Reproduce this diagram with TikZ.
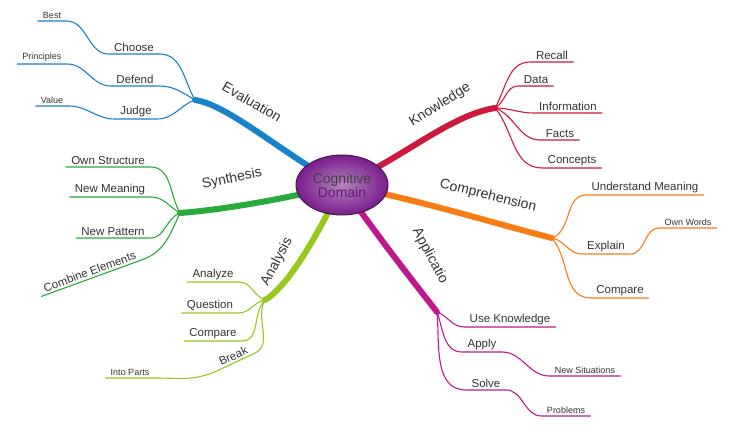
\documentclass[tikz,border=0pt]{standalone}
\usepackage{fontspec}
\setmainfont{Liberation Sans}
\usetikzlibrary{shapes.geometric}
\definecolor{ckn}{RGB}{205,25,60}
\definecolor{cco}{RGB}{245,125,20}
\definecolor{cpp}{RGB}{190,25,140}
\definecolor{can}{RGB}{150,200,30}
\definecolor{csy}{RGB}{40,170,60}
\definecolor{cev}{RGB}{25,130,200}
\definecolor{cpu}{RGB}{120,30,140}
\begin{document}
\begin{tikzpicture}[x=1pt,y=-1pt,
  main/.style={font=\fontsize{14}{15}\selectfont,text=black!80,inner sep=1pt},
  sub/.style={font=\fontsize{11.5}{13}\selectfont,text=black!80,anchor=south,inner xsep=5pt,inner ysep=2pt},
  sml/.style={font=\fontsize{9}{10}\selectfont,text=black!80,anchor=south,inner xsep=5pt,inner ysep=2pt},
  br/.style={line width=6pt,line cap=round},
  tw/.style={line width=1.1pt}]
\useasboundingbox (0,0) rectangle (750,425);
% junctions
\coordinate (C) at (342,185);
\coordinate (JK) at (495,108);
\coordinate (JC) at (552,238);
\coordinate (JP) at (437,312);
\coordinate (JA) at (265,300);
\coordinate (JS) at (180,213);
\coordinate (JE) at (195,100);
% main branches
\draw[br,ckn] (C) .. controls (400,160) and (450,115) .. (JK);
\draw[br,cco] (C) .. controls (420,200) and (500,225) .. (JC);
\draw[br,cpp] (C) .. controls (380,240) and (420,290) .. (JP);
\draw[br,can] (C) .. controls (320,230) and (290,285) .. (JA);
\draw[br,csy] (C) .. controls (280,200) and (220,210) .. (JS);
\draw[br,cev] (C) .. controls (290,160) and (230,105) .. (JE);
% center
\node[ellipse,draw=cpu!60!black,line width=1pt,minimum width=92pt,minimum height=60pt,
  inner color=cpu!55!white,outer color=cpu,align=center,
  font=\fontsize{14}{15}\selectfont,text=black!75] (ctr) at (C) {Cognitive\\[-1pt]{\color{cpu!80!black}Domain}};
% main labels
\node[main,rotate=32] (k) at (440,105) {Knowledge};
\node[main,rotate=-14] (co) at (488,196) {Comprehension};
\node[main,rotate=-62] (ap) at (430,256) {Applicatio};
\node[main,rotate=62] (an) at (277,262) {Analysis};
\node[main,rotate=12] (sy) at (232,179) {Synthesis};
\node[main,rotate=-30] (ev) at (252,102) {Evaluation};
% Knowledge subs
\begin{scope}[ckn,tw]
\node[sub] (k1) at (552,62) {Recall};
\node[sub] (k2) at (536,86) {Data};
\node[sub] (k3) at (568,113) {Information};
\node[sub] (k4) at (560,140) {Facts};
\node[sub] (k5) at (572,168) {Concepts};
\draw (JK) to[out=60,in=180] (k1.south west) -- (k1.south east);
\draw (JK) to[out=30,in=180] (k2.south west) -- (k2.south east);
\draw (JK) to[out=0,in=180] (k3.south west) -- (k3.south east);
\draw (JK) to[out=-20,in=180] (k4.south west) -- (k4.south east);
\draw (JK) to[out=-50,in=180] (k5.south west) -- (k5.south east);
\end{scope}
% Comprehension subs
\begin{scope}[cco,tw]
\node[sub] (c1) at (645,195) {Understand Meaning};
\node[sub] (c2) at (606,254) {Explain};
\node[sml] (c3) at (688,228) {Own Words};
\node[sub] (c4) at (620,298) {Compare};
\draw (JC) to[out=20,in=180] (c1.south west) -- (c1.south east);
\draw (JC) to[out=-10,in=180] (c2.south west) -- (c2.south east);
\draw (c2.south east) to[out=0,in=180] (c3.south west) -- (c3.south east);
\draw (JC) to[out=-50,in=180] (c4.south west) -- (c4.south east);
\end{scope}
% Application subs
\begin{scope}[cpp,tw]
\node[sub] (p1) at (510,327) {Use Knowledge};
\node[sub] (p2) at (482,352) {Apply};
\node[sml] (p3) at (585,376) {New Situations};
\node[sub] (p4) at (486,390) {Solve};
\node[sml] (p5) at (566,416) {Problems};
\draw (JP) to[out=-20,in=180] (p1.south west) -- (p1.south east);
\draw (JP) to[out=-70,in=180] (p2.south west) -- (p2.south east);
\draw (p2.south east) to[out=0,in=180] (p3.south west) -- (p3.south east);
\draw (JP) to[out=-85,in=180] (p4.south west) -- (p4.south east);
\draw (p4.south east) to[out=0,in=180] (p5.south west) -- (p5.south east);
\end{scope}
% Analysis subs
\begin{scope}[can,tw]
\node[sub] (a1) at (213,282) {Analyze};
\node[sub] (a2) at (210,313) {Question};
\node[sub] (a3) at (213,341) {Compare};
\node[sub,rotate=25] (a4) at (236,362) {Break};
\node[sml] (a5) at (130,378) {Into Parts};
\draw (JA) to[out=160,in=0] (a1.south east) -- (a1.south west);
\draw (JA) to[out=190,in=0] (a2.south east) -- (a2.south west);
\draw (JA) to[out=225,in=0] (a3.south east) -- (a3.south west);
\draw (JA) to[out=240,in=25] (a4.south east) -- (a4.south west) to[out=205,in=0] (a5.south east) -- (a5.south west);
\end{scope}
% Synthesis subs
\begin{scope}[csy,tw]
\node[sub] (s1) at (108,167) {Own Structure};
\node[sub] (s2) at (110,197) {New Meaning};
\node[sub] (s3) at (113,238) {New Pattern};
\node[sub,rotate=20] (s4) at (92,278) {Combine Elements};
\draw (JS) to[out=120,in=0] (s1.south east) -- (s1.south west);
\draw (JS) to[out=150,in=0] (s2.south east) -- (s2.south west);
\draw (JS) to[out=200,in=0] (s3.south east) -- (s3.south west);
\draw (JS) to[out=245,in=20] (s4.south east) -- (s4.south west);
\end{scope}
% Evaluation subs
\begin{scope}[cev,tw]
\node[sub] (e1) at (134,54) {Choose};
\node[sml] (e2) at (52,21) {Best};
\node[sub] (e3) at (135,86) {Defend};
\node[sml] (e4) at (42,64) {Principles};
\node[sub] (e5) at (136,119) {Judge};
\node[sml] (e6) at (52,106) {Value};
\draw (JE) to[out=120,in=0] (e1.south east) -- (e1.south west);
\draw (e1.south west) to[out=180,in=0] (e2.south east) -- (e2.south west);
\draw (JE) to[out=150,in=0] (e3.south east) -- (e3.south west);
\draw (e3.south west) to[out=180,in=0] (e4.south east) -- (e4.south west);
\draw (JE) to[out=200,in=0] (e5.south east) -- (e5.south west);
\draw (e5.south west) to[out=180,in=0] (e6.south east) -- (e6.south west);
\end{scope}
\end{tikzpicture}
\end{document}
